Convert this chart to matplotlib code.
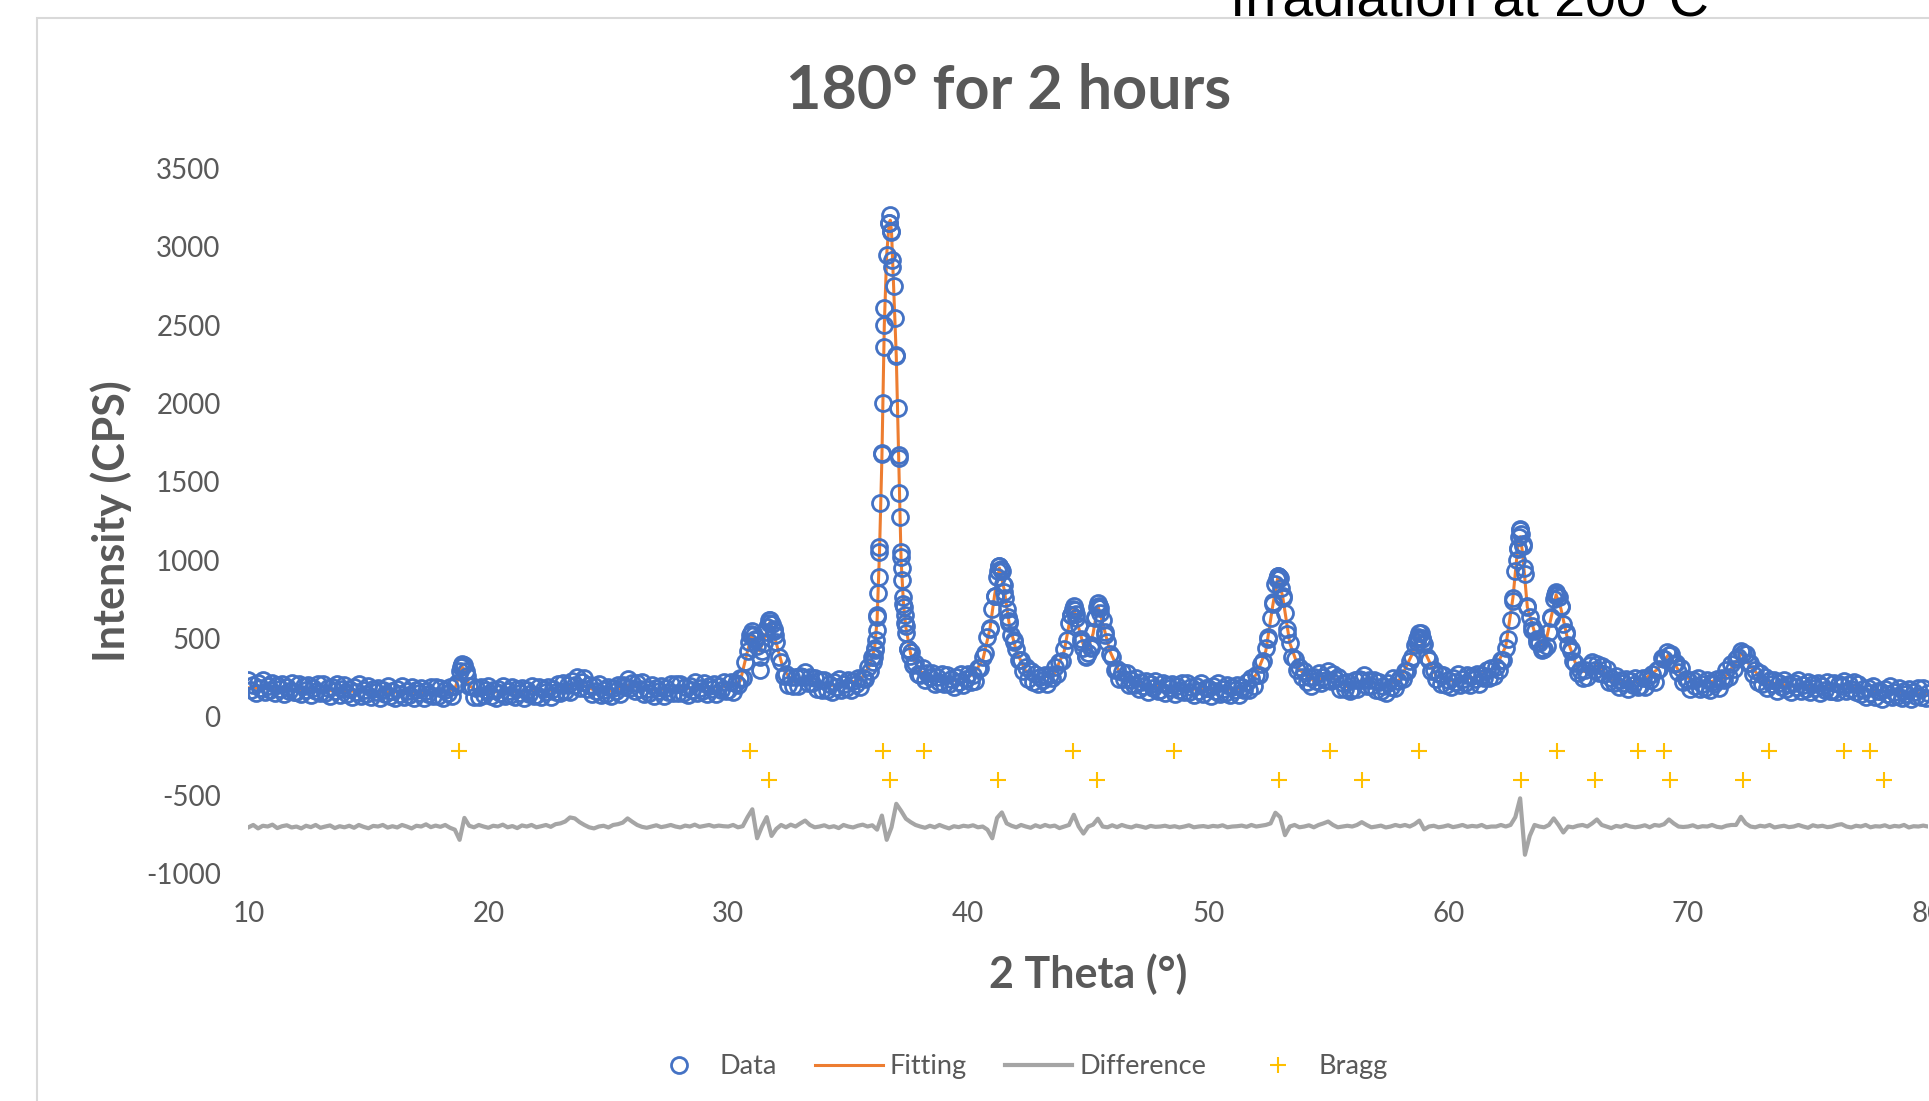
import numpy as np
import matplotlib
matplotlib.use("Agg")
import matplotlib.pyplot as plt
from matplotlib.patches import Rectangle

plt.rcParams["font.family"] = ["Lato", "DejaVu Sans"]
plt.rcParams["axes.unicode_minus"] = False

scan_start, scan_end, scan_points = 10, 80, 701
data_rows = [
    [233, 172, 206, 155, 214, 183, 232, 161, 195, 169, 218, 152, 201, 180, 209, 144, 193, 168, 217, 157],   # 10
    [161, 210, 145, 194, 174, 203, 138, 187, 162, 211, 151, 210, 150, 184, 134, 193, 163, 212, 142, 177],   # 12
    [206, 145, 180, 129, 188, 158, 207, 136, 171, 145, 194, 129, 178, 157, 187, 121, 171, 145, 195, 135],   # 14
    [168, 118, 178, 148, 198, 128, 163, 138, 188, 123, 173, 153, 183, 118, 168, 143, 193, 133, 190, 130],   # 16
    [185, 120, 172, 155, 190, 130, 195, 215, 295, 330, 330, 260, 195, 195, 125, 183, 128, 193, 138, 173],   # 18
    [195, 135, 170, 120, 180, 150, 200, 130, 165, 140, 190, 125, 175, 155, 185, 120, 170, 145, 195, 135],   # 20
    [140, 191, 127, 178, 160, 191, 128, 180, 157, 210, 153, 218, 163, 204, 160, 226, 202, 254, 186, 220],   # 22
    [245, 178, 205, 147, 200, 165, 210, 137, 170, 144, 193, 130, 183, 168, 205, 148, 206, 188, 243, 185],   # 24
    [217, 163, 217, 180, 223, 148, 179, 152, 201, 136, 187, 168, 198, 134, 184, 160, 210, 151, 211, 151],   # 26
    [212, 153, 188, 139, 199, 170, 221, 151, 187, 162, 213, 148, 199, 180, 210, 146, 196, 172, 222, 163],   # 28
    [170, 222, 160, 215, 205, 250, 250, 350, 420, 525, 545, 490, 450, 385, 420, 470, 575, 620, 595, 550],   # 30
    [480, 385, 350, 260, 275, 202, 257, 195, 255, 200, 263, 253, 287, 218, 255, 215, 250, 180, 235, 173],   # 32
    [233, 173, 209, 159, 220, 190, 241, 172, 208, 184, 236, 173, 226, 210, 245, 188, 250, 243, 320, 295],   # 34
    [380, 440, 635, 1050, 1680, 2500, 2950, 3150, 3100, 2750, 2300, 1650, 1020, 720, 580, 435, 415, 330, 345, 275],  # 36
    [270, 310, 237, 280, 253, 277, 207, 253, 225, 273, 211, 270, 209, 243, 192, 252, 222, 273, 204, 241],   # 38
    [275, 220, 265, 230, 310, 310, 380, 405, 510, 570, 690, 770, 890, 960, 930, 840, 690, 610, 520, 490],   # 40
    [430, 365, 360, 290, 315, 242, 295, 225, 275, 207, 255, 236, 269, 208, 265, 250, 315, 275, 350, 355],   # 42
    [430, 490, 600, 650, 705, 655, 580, 480, 440, 390, 410, 440, 540, 630, 725, 695, 620, 520, 480, 400],   # 44
    [380, 300, 308, 240, 285, 242, 282, 204, 232, 201, 246, 177, 223, 200, 227, 160, 208, 181, 229, 167],   # 46
    [170, 219, 154, 203, 182, 211, 146, 195, 169, 218, 157, 217, 156, 190, 139, 199, 168, 217, 147, 181],   # 48
    [185, 134, 194, 163, 213, 143, 178, 154, 204, 140, 191, 172, 203, 140, 192, 170, 225, 173, 245, 200],   # 50
    [265, 265, 335, 355, 440, 510, 630, 720, 850, 900, 885, 770, 660, 530, 470, 385, 370, 300, 315, 255],   # 52
    [295, 225, 252, 197, 255, 226, 280, 216, 257, 238, 292, 227, 271, 240, 255, 175, 213, 180, 225, 165],   # 54
    [175, 233, 180, 243, 233, 267, 198, 238, 200, 238, 170, 225, 163, 198, 150, 215, 190, 247, 185, 230],   # 56
    [250, 240, 290, 290, 355, 385, 460, 495, 535, 505, 465, 385, 360, 290, 298, 240, 273, 210, 269, 205],   # 58
    [238, 188, 249, 220, 271, 202, 239, 216, 268, 205, 258, 241, 274, 212, 266, 245, 300, 246, 313, 262],   # 60
    [320, 300, 360, 365, 440, 500, 620, 740, 930, 1070, 1190, 1090, 910, 710, 635, 555, 545, 475, 470, 425],  # 62
    [435, 450, 540, 630, 750, 795, 765, 710, 590, 530, 460, 430, 355, 345, 280, 300, 247, 300, 255, 330],   # 64
    [350, 300, 340, 282, 325, 275, 305, 220, 245, 213, 258, 190, 237, 215, 243, 177, 226, 201, 251, 192],   # 66
    [198, 250, 189, 245, 233, 275, 225, 300, 305, 375, 370, 415, 395, 400, 340, 345, 285, 310, 220, 241],   # 68
    [236, 179, 234, 200, 247, 175, 209, 184, 235, 172, 225, 209, 244, 186, 245, 232, 297, 257, 340, 305],   # 70
    [370, 380, 420, 405, 400, 345, 345, 275, 297, 225, 278, 209, 257, 187, 233, 209, 236, 168, 216, 189],   # 72
    [237, 176, 210, 160, 219, 188, 237, 166, 201, 175, 224, 158, 207, 187, 216, 150, 200, 174, 223, 163],   # 74
    [167, 218, 156, 211, 197, 231, 166, 212, 180, 223, 156, 211, 147, 179, 126, 184, 152, 200, 129, 163],   # 76
    [167, 117, 176, 146, 195, 125, 159, 134, 183, 118, 167, 147, 176, 111, 160, 135, 184, 124, 183, 123],   # 78
    [150],                                                                                                   # 80
]

# extra points on the peak flanks (finer step there)
peak_x = [18.85, 18.9, 18.95, 19.05,
          30.85, 30.95, 31.05, 31.1, 31.3, 31.55, 31.7, 31.75, 31.9, 31.95,
          36.04, 36.08, 36.12, 36.15, 36.18, 36.21, 36.24, 36.27, 36.30, 36.34,
          36.40, 36.45, 36.48, 36.50, 36.70, 36.74, 36.78, 36.82, 36.84,
          36.96, 37.00, 37.06, 37.10, 37.13, 37.15, 37.19, 37.22, 37.25, 37.29,
          37.32, 37.35, 37.38, 37.42, 37.50, 37.58,
          40.9, 41.1, 41.25, 41.3, 41.35, 41.45, 41.5, 41.55, 41.65, 41.7, 41.9,
          44.3, 44.35, 44.45, 44.5, 44.7, 44.9, 45.1, 45.3, 45.35, 45.45, 45.5, 45.7,
          52.5, 52.7, 52.85, 52.9, 52.95, 53.05, 53.1, 53.3,
          58.7, 58.75, 58.85, 58.9, 58.95,
          62.7, 62.85, 62.9, 62.95, 63.0, 63.05, 63.1, 63.15, 63.3, 63.5, 63.7, 63.9,
          64.3, 64.45, 64.5, 64.55, 64.7, 64.9, 65.1]
peak_y = [320, 340, 330, 290,
          480, 530, 520, 500, 300, 540, 600, 620, 560, 520,
          350, 380, 428, 492, 556, 650, 791, 895, 1086, 1366,
          1685, 2004, 2362, 2608, 3150, 3203, 3093, 2915, 2870,
          2545, 2309, 1970, 1673, 1430, 1277, 1053, 951, 874, 766,
          702, 650, 600, 537, 430, 390,
          560, 770, 930, 965, 945, 850, 800, 760, 640, 600, 480,
          650, 690, 680, 630, 500, 380, 460, 640, 700, 710, 660, 540,
          500, 730, 880, 900, 895, 820, 760, 560,
          480, 510, 535, 500, 470,
          760, 1000, 1080, 1150, 1200, 1170, 1100, 950, 700, 580, 500, 440,
          640, 780, 790, 780, 700, 540, 420]

fit_x = [10, 12, 14, 16, 18, 18.6, 18.8, 18.9, 19.0, 19.2, 19.6, 21, 23, 23.7,
         24.4, 25.2, 25.9, 26.6, 28, 30, 30.5, 30.8, 31.0, 31.15, 31.3, 31.5,
         31.75, 32.0, 32.3, 32.7, 33.2, 33.7, 34.5, 35.5, 35.9, 36.1, 36.2,
         36.3, 36.4, 36.5, 36.6, 36.7, 36.75, 36.8, 36.9, 37.0, 37.1, 37.2,
         37.3, 37.4, 37.6, 38.0, 38.6, 39.5, 40.2, 40.6, 40.9, 41.1, 41.3,
         41.5, 41.7, 42.0, 42.4, 43.0, 43.6, 44.0, 44.2, 44.4, 44.6, 44.9,
         45.2, 45.4, 45.6, 45.9, 46.3, 47.0, 48.5, 50.5, 51.5, 52.0, 52.4,
         52.7, 52.9, 53.1, 53.4, 53.8, 54.4, 55.1, 55.8, 56.5, 57.3, 58.0,
         58.5, 58.8, 59.1, 59.5, 60.2, 61.2, 62.0, 62.4, 62.7, 62.9, 63.0,
         63.1, 63.3, 63.6, 64.0, 64.3, 64.5, 64.7, 65.0, 65.4, 65.8, 66.2,
         66.8, 68.0, 68.7, 69.2, 69.7, 70.5, 71.5, 72.0, 72.25, 72.6, 73.2,
         74.5, 76.0, 76.6, 77.5, 80]
fit_y = [185, 172, 165, 158, 155, 175, 280, 320, 300, 200, 160, 160, 172, 215,
         172, 165, 205, 172, 180, 195, 230, 420, 530, 470, 420, 500,
         610, 470, 300, 225, 258, 205, 200, 235, 330, 440, 620,
         1050, 1650, 2500, 2950, 3150, 3170, 3100, 2700, 2300, 1650, 1000,
         720, 570, 400, 290, 245, 232, 270, 360, 560, 780, 950,
         810, 600, 420, 290, 240, 280, 420, 590, 690, 570, 400,
         530, 710, 600, 420, 285, 215, 182, 170, 185, 270, 420,
         720, 890, 770, 470, 300, 230, 260, 190, 240, 192, 240,
         400, 520, 390, 260, 228, 255, 320, 450, 760, 1080, 1150,
         1050, 700, 540, 430, 640, 780, 690, 480, 300, 285, 330,
         235, 220, 300, 400, 270, 208, 245, 350, 410, 320, 225,
         192, 185, 205, 170, 148]

# difference curve, every 0.2 deg
diff_start, diff_end, diff_points = 10, 80, 351
diff_rows = [
    [-705, -690, -712, -695, -700, -688, -710, -698, -692, -706],
    [-700, -712, -695, -704, -690, -708, -700, -693, -710, -698],
    [-705, -695, -708, -690, -702, -711, -696, -700, -690, -707],
    [-698, -706, -690, -700, -712, -695, -700, -686, -704, -694],
    [-702, -690, -708, -720, -785, -645, -695, -705, -690, -700],
    [-708, -695, -700, -688, -705, -697, -710, -693, -700, -690],
    [-705, -698, -690, -702, -685, -680, -668, -642, -648, -672],
    [-690, -705, -712, -700, -695, -706, -690, -685, -675, -648],
    [-670, -690, -702, -708, -700, -692, -704, -698, -690, -700],
    [-706, -694, -700, -688, -702, -696, -690, -700, -694, -698],
    [-700, -690, -705, -698, -640, -590, -775, -700, -640, -760],
    [-715, -690, -705, -688, -700, -680, -662, -690, -705, -700],
    [-692, -705, -698, -710, -690, -700, -706, -695, -688, -700],
    [-692, -720, -630, -785, -705, -555, -600, -650, -672, -690],
    [-700, -708, -695, -705, -690, -702, -712, -698, -704, -695],
    [-700, -692, -705, -700, -720, -775, -645, -610, -680, -695],
    [-705, -690, -700, -708, -692, -703, -690, -700, -694, -710],
    [-700, -690, -625, -700, -745, -700, -688, -650, -700, -705],
    [-692, -704, -690, -700, -706, -694, -700, -708, -696, -702],
    [-700, -695, -703, -698, -706, -700, -692, -705, -700, -697],
    [-703, -696, -700, -692, -705, -700, -698, -694, -702, -690],
    [-700, -695, -690, -680, -612, -640, -755, -700, -690, -705],
    [-700, -692, -705, -690, -680, -668, -690, -705, -700, -695],
    [-700, -690, -672, -690, -705, -700, -694, -706, -700, -690],
    [-698, -690, -700, -685, -662, -718, -700, -695, -705, -700],
    [-692, -704, -698, -690, -702, -696, -700, -690, -705, -700],
    [-700, -690, -700, -690, -640, -520, -880, -760, -690, -700],
    [-705, -690, -648, -690, -738, -700, -705, -695, -690, -700],
    [-680, -655, -690, -700, -710, -696, -702, -690, -700, -705],
    [-700, -692, -705, -690, -695, -685, -655, -680, -700, -703],
    [-700, -692, -705, -698, -700, -690, -702, -706, -695, -690],
    [-690, -638, -680, -700, -705, -695, -700, -690, -706, -700],
    [-695, -704, -700, -690, -700, -708, -692, -700, -695, -704],
    [-700, -690, -685, -700, -706, -695, -700, -690, -705, -698],
    [-700, -692, -704, -696, -700, -690, -706, -698, -700, -694],
    [-700],
]

bragg_x_1 = [18.77, 30.92, 36.46, 38.15, 44.36, 48.56, 55.07, 58.78, 64.55,
             67.90, 69.00, 73.36, 76.50, 77.60]
bragg_x_2 = [31.69, 36.72, 41.23, 45.38, 52.96, 56.41, 63.02, 66.14, 69.23,
             72.28, 78.18]
bragg_y_1 = -220
bragg_y_2 = -400

two_theta = np.linspace(scan_start, scan_end, scan_points)
intensity = np.concatenate([np.array(r, dtype=float) for r in data_rows])
diff_theta = np.linspace(diff_start, diff_end, diff_points)
difference = np.concatenate([np.array(r, dtype=float) for r in diff_rows])

data_x = np.concatenate([two_theta, peak_x])
data_y = np.concatenate([intensity, peak_y])
order = np.argsort(data_x, kind="stable")
data_x, data_y = data_x[order], data_y[order]

blue = "#4472C4"
orange = "#ED7D31"
grey = "#A5A5A5"
gold = "#FFC000"
text_grey = "#595959"

fig = plt.figure(figsize=(19.29, 11.01), dpi=100)
ax = fig.add_axes([0.1288, 0.2066, 0.8707, 0.6404])

ax.plot(fit_x, fit_y, color=orange, lw=2.2, zorder=2, label="Fitting")
ax.plot(data_x, data_y, "o", mfc="none", mec=blue, ms=11.5, mew=2.0,
        zorder=3, label="Data")
ax.plot(diff_theta, difference, color=grey, lw=3.0, zorder=2, label="Difference")
ax.plot(bragg_x_1, [bragg_y_1] * len(bragg_x_1), "+", color=gold, ms=12,
        mew=1.5, zorder=2, label="Bragg")
ax.plot(bragg_x_2, [bragg_y_2] * len(bragg_x_2), "+", color=gold, ms=12,
        mew=1.5, zorder=2)

ax.set_xlim(10, 80)
ax.set_ylim(-1000, 3500)
ax.set_xticks(range(10, 81, 10))
ax.set_yticks(range(-1000, 3501, 500))
for s in ax.spines.values():
    s.set_visible(False)
ax.tick_params(length=0, labelsize=20, colors=text_grey)
ax.tick_params(axis="y", pad=20)
ax.tick_params(axis="x", pad=20)

ax.set_xlabel("2 Theta (°)", fontsize=31, fontweight="bold", color=text_grey,
              labelpad=19)
ax.set_ylabel("Intensity (CPS)", fontsize=31, fontweight="bold", color=text_grey,
              labelpad=10)
fig.text(0.523, 0.917, "180° for 2 hours", fontsize=44, fontweight="bold",
         color=text_grey, ha="center", va="center")

# chart frame and the cut-off caption above it
fig.patches.append(Rectangle((0.0192, -0.1), 1.2, 1.0837, transform=fig.transFigure,
                             fill=False, edgecolor="#D9D9D9", lw=1.5))
fig.text(0.6376, 0.9855, "Irradiation at 200°C", fontsize=40, color="black",
         family="Liberation Sans", ha="left", va="baseline")

h, l = ax.get_legend_handles_labels()
idx = [l.index(n) for n in ["Data", "Fitting", "Difference", "Bragg"]]
fig.legend([h[i] for i in idx], [l[i] for i in idx], loc="center",
           bbox_to_anchor=(0.527, 0.031), ncol=4, frameon=False, fontsize=19.5,
           labelcolor=text_grey, handlelength=2.5, columnspacing=1.4,
           handletextpad=0.25)

fig.savefig("out.png", dpi=100)
